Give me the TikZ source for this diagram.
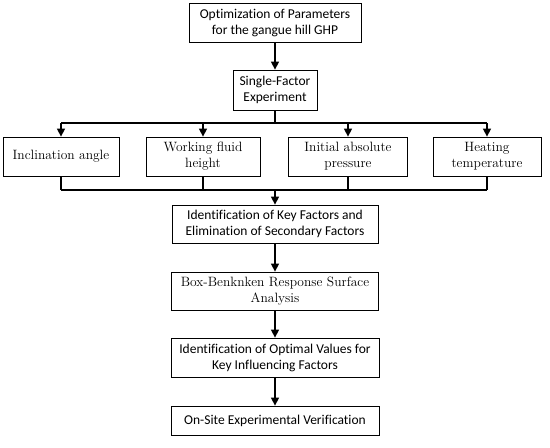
\documentclass[tikz,border=0pt]{standalone}
\usepackage{fontspec}
\usepackage{tikz}
\usetikzlibrary{positioning,arrows.meta,calc}
\newfontfamily\calib[Ligatures=NoCommon]{Carlito}
\tikzset{
  box/.style={draw, line width=0.8pt, align=center, inner sep=0pt},
  sansbox/.style={box, font=\calib\fontsize{13.5}{16}\selectfont},
  serifbox/.style={box, font=\rmfamily\fontsize{13.5}{16}\selectfont},
  link/.style={line width=1.4pt},
  arrow/.style={link, -{Triangle[length=8pt, width=8pt]}},
}
\begin{document}
\begin{tikzpicture}[x=1pt, y=-1pt]
  \useasboundingbox (0,0) rectangle (550,448);
  % Main column
  \node[sansbox, minimum width=172pt, minimum height=39pt] (opt) at (275,23)
    {Optimization of Parameters\\for the gangue hill GHP};
  \node[sansbox, minimum width=84pt, minimum height=40pt] (sfe) at (275,90)
    {Single-Factor\\Experiment};

  % Factors
  \node[serifbox, minimum width=116pt, minimum height=39pt] (angle) at (61,156.5)
    {Inclination angle};
  \node[serifbox, minimum width=114pt, minimum height=39pt] (fluid) at (203,156.5)
    {Working fluid\\height};
  \node[serifbox, minimum width=119pt, minimum height=39pt] (press) at (348,156.5)
    {Initial absolute\\pressure};
  \node[serifbox, minimum width=108pt, minimum height=39pt] (heat) at (487,156.5)
    {Heating\\temperature};

  \node[sansbox, minimum width=206pt, minimum height=38pt] (key) at (275,224)
    {Identification of Key Factors and\\Elimination of Secondary Factors};
  \node[serifbox, minimum width=207pt, minimum height=38pt] (bbd) at (275,291)
    {Box-Benknken Response Surface\\Analysis};
  \node[sansbox, minimum width=208pt, minimum height=39pt] (optval) at (275,357.5)
    {Identification of Optimal Values for\\Key Influencing Factors};
  \node[sansbox, minimum width=208pt, minimum height=29pt] (site) at (275,420.5)
    {On-Site Experimental Verification};

  \coordinate (fork) at (275,123);
  \coordinate (join) at (275,190);

  \draw[arrow] (opt) -- (sfe);
  \draw[link] (sfe) -- (fork);
  \draw[link] (fork -| angle) -- (fork -| heat);
  \foreach \f in {angle,fluid,press,heat}{
    \draw[arrow] (fork -| \f) -- (\f);
    \draw[link] (\f) -- (join -| \f);
  }
  \draw[link] (join -| angle) -- (join -| heat);
  \draw[arrow] (join) -- (key);
  \draw[arrow] (key) -- (bbd);
  \draw[arrow] (bbd) -- (optval);
  \draw[arrow] (optval) -- (site);
\end{tikzpicture}
\end{document}
